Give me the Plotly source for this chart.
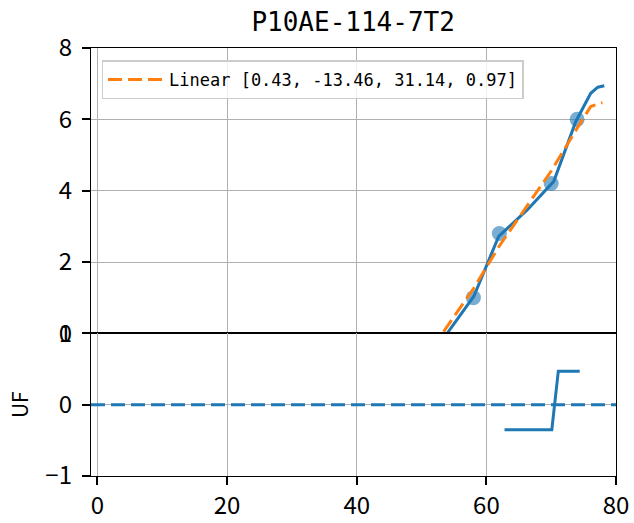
import plotly.graph_objects as go
from plotly.subplots import make_subplots

# curva medida (panel superior)
curve_x = [53.95, 58.07, 61.9, 66.3, 70.4, 73.8, 76.1, 77.2, 78.2]
curve_y = [0.0, 1.04, 2.72, 3.46, 4.26, 5.94, 6.73, 6.9, 6.94]

# puntos observados
obs_x = [58, 62, 70, 74]
obs_y = [1.0, 2.8, 4.2, 6.0]

# ajuste lineal
fit_x = [53.4, 58, 62, 66, 70, 74, 76.1, 77.9]
fit_y = [0.05, 1.25, 2.45, 3.5, 4.55, 5.75, 6.36, 6.47]
fit_label = "Linear [0.43, -13.46, 31.14, 0.97]"

# UF (panel inferior)
uf_x = [62.8, 70.1, 71.1, 74.4]
uf_y = [-0.35, -0.35, 0.47, 0.47]
uf_ref_x = [-1, 80]
uf_ref_y = [0, 0]

BLUE = "#1f77b4"
ORANGE = "#ff7f0e"
TICK_FONT = "Noto Sans CJK SC"
MONO = "DejaVu Sans Mono"

fig = make_subplots(rows=2, cols=1, shared_xaxes=True,
                    vertical_spacing=0, row_heights=[2, 1])

fig.add_trace(go.Scatter(
    x=obs_x, y=obs_y, mode="markers",
    marker=dict(size=15, color=BLUE, opacity=0.6),
    showlegend=False,
), row=1, col=1)
fig.add_trace(go.Scatter(
    x=curve_x, y=curve_y, mode="lines",
    line=dict(color=BLUE, width=3),
    showlegend=False,
), row=1, col=1)
fig.add_trace(go.Scatter(
    x=fit_x, y=fit_y, mode="lines",
    line=dict(color=ORANGE, width=3, dash="14px,6px"),
    name=fit_label,
), row=1, col=1)

fig.add_trace(go.Scatter(
    x=uf_ref_x, y=uf_ref_y, mode="lines",
    line=dict(color=BLUE, width=3, dash="14px,6px"),
    showlegend=False,
), row=2, col=1)
fig.add_trace(go.Scatter(
    x=uf_x, y=uf_y, mode="lines",
    line=dict(color=BLUE, width=3),
    showlegend=False,
), row=2, col=1)

axis_style = dict(
    showline=True, linecolor="black", linewidth=1.4, mirror=True,
    showgrid=True, gridcolor="#b0b0b0", gridwidth=1.3,
    zeroline=False, ticks="outside", ticklen=8, tickcolor="black", tickwidth=1.5,
    ticklabelstandoff=5, automargin=False,
    tickfont=dict(size=24, color="black", family=TICK_FONT),
)

fig.update_xaxes(**axis_style, range=[-1, 80], tickvals=[0, 20, 40, 60, 80])
fig.update_xaxes(ticklabelstandoff=0, row=2, col=1)
fig.update_xaxes(showticklabels=False, ticks="", row=1, col=1)
fig.update_yaxes(**axis_style)
fig.update_yaxes(range=[0, 8], tickvals=[0, 2, 4, 6, 8], row=1, col=1)
fig.update_yaxes(range=[-1, 1], tickvals=[-1, 0, 1], row=2, col=1,
                 title=dict(text="UF", font=dict(size=21, family=TICK_FONT, color="black"),
                            standoff=10))

fig.update_layout(
    width=634, height=523,
    margin=dict(l=91, r=18, t=48, b=47),
    plot_bgcolor="white", paper_bgcolor="white",
    title=dict(text="P10AE-114-7T2", x=0.557, xanchor="center", y=0.958, yanchor="middle",
               font=dict(size=26, family=MONO, color="black")),
    legend=dict(x=0.02, y=0.971, xanchor="left", yanchor="top",
                bgcolor="rgba(255,255,255,0.8)", bordercolor="#cccccc", borderwidth=1.5,
                itemwidth=56,
                font=dict(size=17, family=MONO, color="black")),
    showlegend=True,
)

# sin margen ni scroll en la pagina para que la figura quede en (0, 0)
page_js = (
    "document.body.style.margin='0';"
    "document.documentElement.style.overflow='hidden';"
    "document.body.style.overflow='hidden';"
)
fig.write_html("out.html", post_script=page_js, config={"displayModeBar": False})
